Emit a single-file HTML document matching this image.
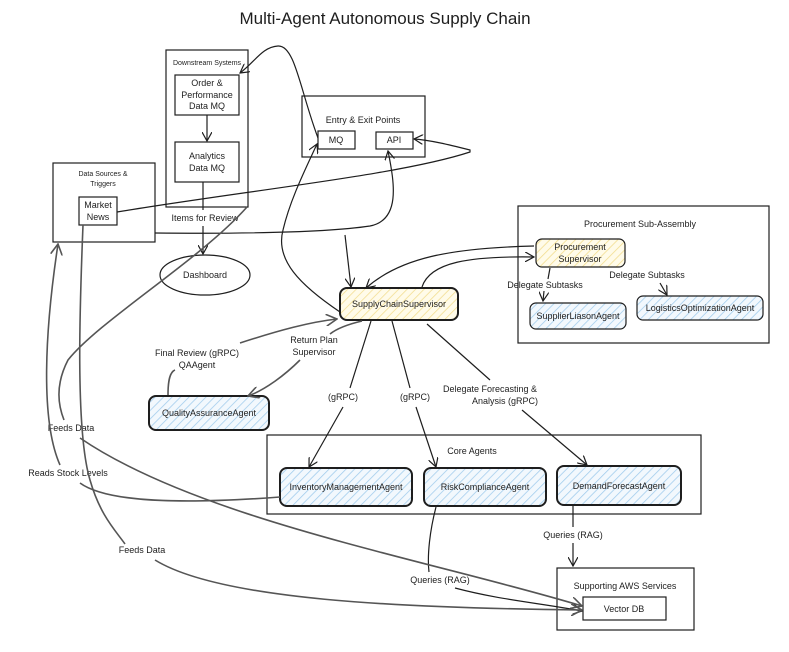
<!DOCTYPE html>
<html><head><meta charset="utf-8"><style>
body{margin:0;background:#fff}
svg{display:block}
text{font-family:"Liberation Sans",sans-serif;fill:#1e1e1e}
</style></head><body>
<svg width="789" height="652" viewBox="0 0 789 652" xmlns="http://www.w3.org/2000/svg">
<defs>
<pattern id="hy" width="6" height="6" patternUnits="userSpaceOnUse" patternTransform="rotate(45)">
<rect width="6" height="6" fill="#fffbe9"/><line x1="0" y1="0" x2="0" y2="6" stroke="#f2dc8c" stroke-width="1.5"/></pattern>
<pattern id="hb" width="6" height="6" patternUnits="userSpaceOnUse" patternTransform="rotate(45)">
<rect width="6" height="6" fill="#f2f8fd"/><line x1="0" y1="0" x2="0" y2="6" stroke="#9fcbec" stroke-width="1.5"/></pattern>
<marker id="a" markerWidth="10" markerHeight="10" refX="9" refY="5" orient="auto" markerUnits="userSpaceOnUse"><path d="M0,0 L9,5 L0,10" fill="none" stroke="#1e1e1e" stroke-width="1.2"/></marker>
<marker id="g" markerWidth="12" markerHeight="12" refX="11" refY="6" orient="auto" markerUnits="userSpaceOnUse"><path d="M0,0 L11,6 L0,12" fill="none" stroke="#555" stroke-width="1.6"/></marker>
</defs>
<text x="385" y="24" font-size="17" text-anchor="middle">Multi-Agent Autonomous Supply Chain</text>

<g fill="none" stroke="#1e1e1e" stroke-width="1.2">
<rect x="166" y="50" width="82" height="157"/>
<rect x="175" y="75" width="64" height="40"/>
<rect x="175" y="142" width="64" height="40"/>
<rect x="302" y="96" width="123" height="61"/>
<rect x="318" y="131" width="37" height="18"/>
<rect x="376" y="132" width="37" height="17"/>
<rect x="53" y="163" width="102" height="79"/>
<rect x="79" y="197" width="38" height="28"/>
<ellipse cx="205" cy="275" rx="45" ry="20"/>
<rect x="518" y="206" width="251" height="137"/>
<rect x="267" y="435" width="434" height="79"/>
<rect x="557" y="568" width="137" height="62"/>
<rect x="583" y="597" width="83" height="23"/>
</g>
<g stroke="#1e1e1e" stroke-width="2">
<rect x="340" y="288" width="118" height="32" rx="7" fill="url(#hy)"/>
<rect x="149" y="396" width="120" height="34" rx="7" fill="url(#hb)"/>
<rect x="280" y="468" width="132" height="38" rx="7" fill="url(#hb)"/>
<rect x="424" y="468" width="122" height="38" rx="7" fill="url(#hb)"/>
<rect x="557" y="466" width="124" height="39" rx="7" fill="url(#hb)"/>
</g>
<g stroke="#1e1e1e" stroke-width="1.2">
<rect x="536" y="239" width="89" height="28" rx="6" fill="url(#hy)"/>
<rect x="530" y="303" width="96" height="26" rx="6" fill="url(#hb)"/>
<rect x="637" y="296" width="126" height="24" rx="6" fill="url(#hb)"/>
</g>

<g font-size="7" text-anchor="middle">
<text x="207" y="65">Downstream Systems</text>
<text x="103" y="176">Data Sources &amp;</text><text x="103" y="186">Triggers</text>
</g>
<g font-size="9" text-anchor="middle">
<text x="207" y="86">Order &amp;</text><text x="207" y="98">Performance</text><text x="207" y="109">Data MQ</text>
<text x="207" y="159">Analytics</text><text x="207" y="171">Data MQ</text>
<text x="363" y="123">Entry &amp; Exit Points</text>
<text x="336" y="143">MQ</text><text x="394" y="143">API</text>
<text x="98" y="208">Market</text><text x="98" y="220">News</text>
<text x="205" y="221">Items for Review</text>
<text x="205" y="278">Dashboard</text>
<text x="399" y="307">SupplyChainSupervisor</text>
<text x="640" y="227">Procurement Sub-Assembly</text>
<text x="580" y="250">Procurement</text><text x="580" y="262">Supervisor</text>
<text x="578" y="319">SupplierLiasonAgent</text>
<text x="700" y="311">LogisticsOptimizationAgent</text>
<text x="545" y="288">Delegate Subtasks</text>
<text x="647" y="278">Delegate Subtasks</text>
<text x="209" y="416">QualityAssuranceAgent</text>
<text x="472" y="454">Core Agents</text>
<text x="346" y="490">InventoryManagementAgent</text>
<text x="485" y="490">RiskComplianceAgent</text>
<text x="619" y="489">DemandForecastAgent</text>
<text x="625" y="589">Supporting AWS Services</text>
<text x="624" y="612">Vector DB</text>
<text x="197" y="356">Final Review (gRPC)</text><text x="197" y="368">QAAgent</text>
<text x="314" y="343">Return Plan</text><text x="314" y="355">Supervisor</text>
<text x="343" y="400">(gRPC)</text><text x="415" y="400">(gRPC)</text>
<text x="490" y="392">Delegate Forecasting &amp;</text><text x="505" y="404">Analysis (gRPC)</text>
<text x="71" y="431">Feeds Data</text>
<text x="68" y="476">Reads Stock Levels</text>
<text x="142" y="553">Feeds Data</text>
<text x="440" y="583">Queries (RAG)</text>
<text x="573" y="538">Queries (RAG)</text>
</g>

<g fill="none" stroke="#1e1e1e" stroke-width="1.2">
<path d="M207,115 L207,141" marker-end="url(#a)"/>
<path d="M203,182 L203,210 M203,226 L203,254" marker-end="url(#a)"/>
<path d="M318,138 C300,90 295,45 278,46 C262,47 255,62 240,73" marker-end="url(#a)"/>
<path d="M340,312 C300,285 275,260 283,230 C290,200 305,170 317,144" marker-end="url(#a)"/>
<path d="M155,233 C260,234 330,232 370,226 C400,220 395,185 388,151" marker-end="url(#a)"/>
<path d="M117,212 C250,190 400,175 470,152 L470,150 C450,145 430,140 414,139" marker-end="url(#a)"/>
<path d="M345,235 L351,287" marker-end="url(#a)"/>
<path d="M534,246 C450,248 400,258 366,288" marker-end="url(#a)"/>
<path d="M422,287 C430,262 470,256 534,257" marker-end="url(#a)"/>
<path d="M550,268 L548,279 M544,291 L543,301" marker-end="url(#a)"/>
<path d="M660,283 L667,295" marker-end="url(#a)"/>
<path d="M371,321 L350,388 M343,407 L309,467" marker-end="url(#a)"/>
<path d="M392,321 L410,388 M416,407 L436,467" marker-end="url(#a)"/>
<path d="M427,324 L490,380 M522,410 L587,465" marker-end="url(#a)"/>
<path d="M573,506 L573,527 M573,543 L573,566" marker-end="url(#a)"/>
<path d="M436,507 C430,530 427,555 429,572 M455,588 C500,600 540,603 582,611" marker-end="url(#a)"/>
</g>
<g fill="none" stroke="#555" stroke-width="1.6">
<path d="M168,395 C168,380 170,372 175,370 M240,343 C280,330 310,322 337,319" marker-end="url(#g)"/>
<path d="M362,321 C345,325 335,330 330,334 M300,360 C285,375 265,390 248,396" marker-end="url(#g)"/>
<path d="M280,497 C200,503 110,505 80,483 M60,465 C40,420 45,330 58,244" marker-end="url(#g)"/>
<path d="M247,207 C200,260 100,320 68,360 C55,385 58,405 64,420 M80,438 C200,520 430,560 582,606" marker-end="url(#g)"/>
<path d="M83,225 C80,300 75,430 90,480 C100,515 115,530 125,544 M155,560 C220,600 400,608 582,610" marker-end="url(#g)"/>
</g>
</svg>
</body></html>
